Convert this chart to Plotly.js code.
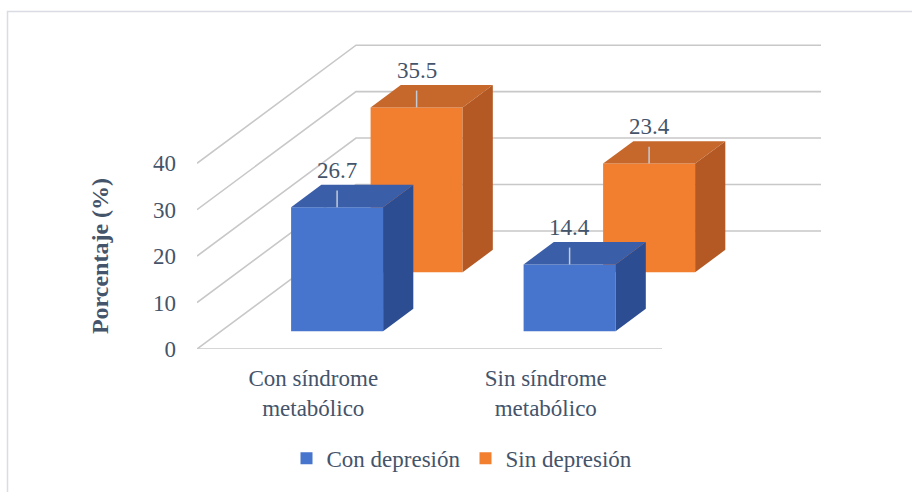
<!DOCTYPE html>
<html>
<head>
<meta charset="utf-8">
<script src="https://cdn.plot.ly/plotly-3.0.1.min.js"></script>
<style>
  html, body { margin: 0; padding: 0; background: #ffffff; }
  #chart { width: 912px; height: 492px; }
</style>
</head>
<body>
<div id="chart"></div>
<script>
// ---- data ----
const categories = ['Con síndrome<br>metabólico', 'Sin síndrome<br>metabólico'];
const seriesNames = ['Con depresión', 'Sin depresión'];
const conDepresion = [26.7, 14.4];
const sinDepresion = [35.5, 23.4];
const yTicks = [0, 10, 20, 30, 40];

// ---- geometry of the oblique (pseudo-3D) projection ----
const W = 912, H = 492;
const M = { l: 197, r: 91, t: 44, b: 138 };
const plotW = W - M.l - M.r, plotH = H - M.t - M.b;
const pxPerCat = 232.5, pxPerVal = 4.72;
const xMax = plotW / pxPerCat, yMax = plotH / pxPerVal;
const DX = 159 / pxPerCat;      // full depth, horizontal (category units)
const DY = 120 / pxPerVal;      // full depth, vertical (value units)
const barW = 92 / pxPerCat;
const barDepth = 0.19;          // fraction of full depth
const zFront = { con: 0.15, sin: 0.65 };

const TXT = '#44546a';
const FONT = 'Liberation Serif';
const FS = 23;
const colors = {
  con: { front: '#4774cc', top: '#3b5ea9', side: '#2d4d92' },
  sin: { front: '#f27f2f', top: '#c6672b', side: '#b45924' }
};

const catX = categories.map((c, i) => i + 0.5);

function barTrace(name, vals, key, rank) {
  const z = zFront[key];
  return {
    type: 'bar', name: name, legendrank: rank,
    x: catX.map(x => x + z * DX),
    y: vals,
    base: vals.map(() => z * DY),
    width: barW,
    marker: { color: colors[key].front, line: { width: 0 } },
    hoverinfo: 'name+y'
  };
}

function faceTraces(vals, key) {
  const z = zFront[key];
  const ddx = barDepth * DX, ddy = barDepth * DY;
  const out = [];
  vals.forEach((v, i) => {
    const xl = catX[i] + z * DX - barW / 2, xr = xl + barW;
    const b = z * DY, t = b + v;
    out.push({
      type: 'scatter', mode: 'lines', showlegend: false, hoverinfo: 'skip',
      x: [xr, xr, xr + ddx, xr + ddx, xr], y: [b, t, t + ddy, b + ddy, b],
      fill: 'toself', fillcolor: colors[key].side, line: { width: 0 }
    });
    out.push({
      type: 'scatter', mode: 'lines', showlegend: false, hoverinfo: 'skip',
      x: [xl, xr, xr + ddx, xl + ddx, xl], y: [t, t, t + ddy, t + ddy, t],
      fill: 'toself', fillcolor: colors[key].top, line: { width: 0 }
    });
  });
  return out;
}

function leaderTrace(vals, key) {
  const z = zFront[key];
  const xs = [], ys = [];
  vals.forEach((v, i) => {
    const xc = catX[i] + z * DX, t = z * DY + v;
    xs.push(xc, xc, null);
    ys.push(t, t + 0.75 * barDepth * DY, null);
  });
  return {
    type: 'scatter', mode: 'lines', showlegend: false, hoverinfo: 'skip',
    x: xs, y: ys, line: { color: '#c3cbd6', width: 1.5 }
  };
}

function labelAnnots(vals, key) {
  const z = zFront[key];
  return vals.map((v, i) => ({
    xref: 'x', yref: 'y', x: catX[i] + z * DX, y: z * DY + v,
    text: v.toFixed(1), showarrow: false, yshift: 37,
    xanchor: 'center', yanchor: 'middle',
    font: { family: FONT, size: FS, color: TXT }
  }));
}

// gridlines: left wall (oblique) + back wall (horizontal), plus floor front edge
const shapes = [];
yTicks.forEach(v => {
  shapes.push({
    type: 'path', xref: 'x', yref: 'y', layer: 'below',
    path: `M0,${v} L${DX},${v + DY} L${xMax},${v + DY}`,
    line: { color: '#c8c8c8', width: 1.6 }
  });
});
shapes.push({
  type: 'line', xref: 'x', yref: 'y', layer: 'below',
  x0: 0, y0: 0, x1: categories.length, y1: 0,
  line: { color: '#c8c8c8', width: 1.6 }
});
// outer chart border
shapes.push({
  type: 'rect', xref: 'paper', yref: 'paper', layer: 'below',
  x0: (7.5 - M.l) / plotW, x1: (W + 20 - M.l) / plotW,
  y0: (H - M.b - (H + 20)) / plotH, y1: (H - M.b - 11) / plotH,
  line: { color: '#d9dce2', width: 1.5 }, fillcolor: 'rgba(0,0,0,0)'
});

const data = [
  barTrace(seriesNames[1], sinDepresion, 'sin', 2),
  barTrace(seriesNames[0], conDepresion, 'con', 1),
  ...faceTraces(sinDepresion, 'sin'),
  ...faceTraces(conDepresion, 'con'),
  leaderTrace(sinDepresion, 'sin'),
  leaderTrace(conDepresion, 'con')
];

const annotations = [
  ...labelAnnots(conDepresion, 'con'),
  ...labelAnnots(sinDepresion, 'sin'),
  {
    xref: 'paper', yref: 'y', x: (100 - M.l) / plotW, y: 20,
    text: '<b>Porcentaje (%)</b>', textangle: -90, showarrow: false,
    xanchor: 'center', yanchor: 'middle',
    font: { family: FONT, size: 24, color: TXT }
  }
];

const layout = {
  width: W, height: H,
  margin: M,
  paper_bgcolor: '#ffffff', plot_bgcolor: 'rgba(0,0,0,0)',
  barmode: 'overlay',
  showlegend: true,
  legend: {
    orientation: 'h', x: (462 - M.l) / plotW, xanchor: 'center',
    y: (H - M.b - 465) / plotH, yanchor: 'middle',
    font: { family: FONT, size: FS, color: TXT },
    traceorder: 'normal'
  },
  xaxis: {
    range: [0, xMax], showgrid: false, zeroline: false, showline: false,
    tickmode: 'array', tickvals: catX, ticktext: categories, ticks: '',
    ticklabelstandoff: 13,
    tickfont: { family: FONT, size: FS, color: TXT }, fixedrange: true
  },
  yaxis: {
    range: [0, yMax], showgrid: false, zeroline: false, showline: false,
    tickmode: 'array', tickvals: yTicks, ticks: '', ticklabelstandoff: 20,
    tickfont: { family: FONT, size: FS, color: TXT }, fixedrange: true
  },
  shapes: shapes,
  annotations: annotations
};

Plotly.newPlot('chart', data, layout, { displayModeBar: false, staticPlot: true });
</script>
</body>
</html>
